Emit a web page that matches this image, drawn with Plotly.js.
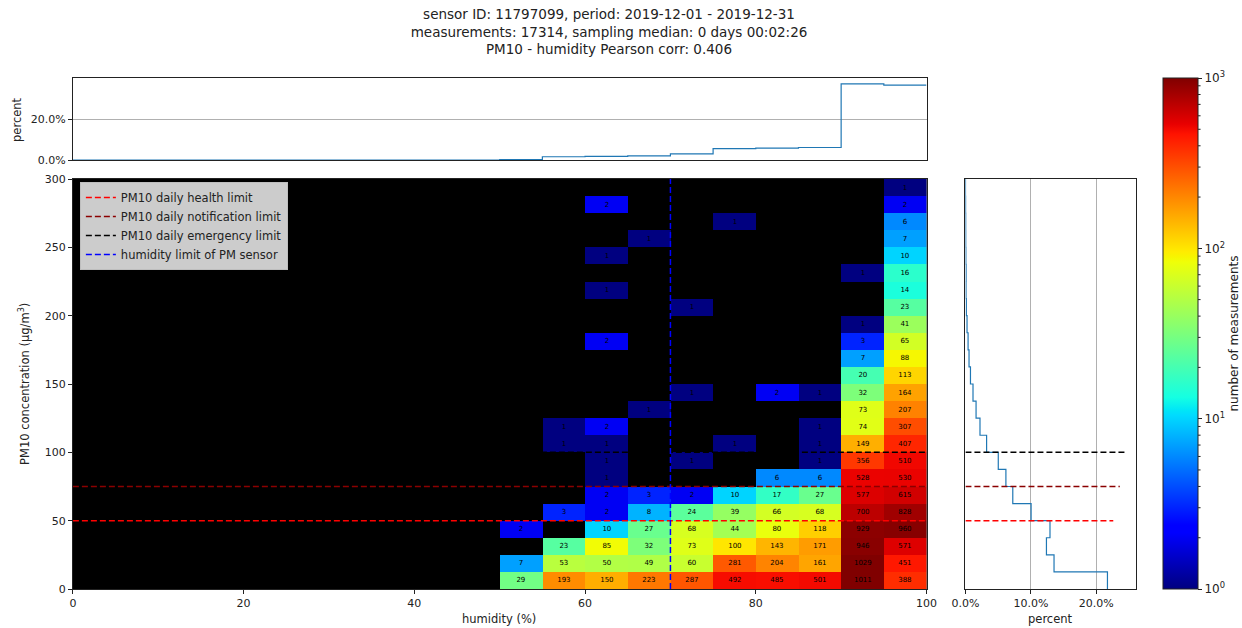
<!DOCTYPE html>
<html><head><meta charset="utf-8">
<script src="https://cdn.plot.ly/plotly-3.0.1.min.js"></script>
<style>body{margin:0;background:#fff;} #chart{width:1242px;height:628px;}</style>
</head><body><div id="chart"></div>
<script>
// ---- data ----
const humidityBinStarts = [0,5,10,15,20,25,30,35,40,45,50,55,60,65,70,75,80,85,90,95];
const pmBinStarts = [0,12.5,25,37.5,50,62.5,75,87.5,100,112.5,125,137.5,150,162.5,175,187.5,200,212.5,225,237.5,250,262.5,275,287.5];
const humidityBinWidth = 5;
const pmBinWidth = 12.5;
const totalMeasurements = 17314;
// counts per PM10 bin (rows, bottom to top), per humidity bin (columns 0..95)
const Z = [0,0,0,0,0,0,0,0,0,0];
const counts = [
  Z.concat([29,193,150,223,287,492,485,501,1011,388]),
  Z.concat([7,53,50,49,60,281,204,161,1029,451]),
  Z.concat([0,23,85,32,73,100,143,171,946,571]),
  Z.concat([2,0,10,27,68,44,80,118,929,960]),
  Z.concat([0,3,2,8,24,39,66,68,700,828]),
  Z.concat([0,0,2,3,2,10,17,27,577,615]),
  Z.concat([0,0,1,0,0,0,6,6,528,530]),
  Z.concat([0,0,1,0,1,0,0,1,356,510]),
  Z.concat([0,1,1,0,0,1,0,1,149,407]),
  Z.concat([0,1,2,0,0,0,0,1,74,307]),
  Z.concat([0,0,0,1,0,0,0,0,73,207]),
  Z.concat([0,0,0,0,1,0,2,1,32,164]),
  Z.concat([0,0,0,0,0,0,0,0,20,113]),
  Z.concat([0,0,0,0,0,0,0,0,7,88]),
  Z.concat([0,0,2,0,0,0,0,0,3,65]),
  Z.concat([0,0,0,0,0,0,0,0,1,41]),
  Z.concat([0,0,0,0,1,0,0,0,0,23]),
  Z.concat([0,0,1,0,0,0,0,0,0,14]),
  Z.concat([0,0,0,0,0,0,0,0,1,16]),
  Z.concat([0,0,1,0,0,0,0,0,0,10]),
  Z.concat([0,0,0,1,0,0,0,0,0,7]),
  Z.concat([0,0,0,0,0,1,0,0,0,6]),
  Z.concat([0,0,2,0,0,0,0,0,0,2]),
  Z.concat([0,0,0,0,0,0,0,0,0,1])
];
const limitNames = ['PM10 daily health limit','PM10 daily notification limit','PM10 daily emergency limit'];
const limitValues = [50, 75, 100];
const limitColors = ['rgb(255,0,0)','rgb(139,0,0)','rgb(0,0,0)'];
const humidityLimit = 70;
const humidityLimitName = 'humidity limit of PM sensor';
const titleLines = ['sensor ID: 11797099, period: 2019-12-01 - 2019-12-31',
  'measurements: 17314, sampling median: 0 days 00:02:26',
  'PM10 - humidity Pearson corr: 0.406'];

// ---- derived ----
const xCenters = humidityBinStarts.map(v => v + humidityBinWidth/2);
const yCenters = pmBinStarts.map(v => v + pmBinWidth/2);
const zLog = counts.map(r => r.map(v => v > 0 ? Math.log10(v) : null));
const zText = counts.map(r => r.map(v => v > 0 ? String(v) : ''));
const colPct = humidityBinStarts.map((_, c) => counts.reduce((s, r) => s + r[c], 0) / totalMeasurements * 100);
const rowPct = counts.map(r => r.reduce((s, v) => s + v, 0) / totalMeasurements * 100);
const xMax = humidityBinStarts[humidityBinStarts.length-1] + humidityBinWidth;
const yMax = pmBinStarts[pmBinStarts.length-1] + pmBinWidth;

// matplotlib jet
const jet = [
 [0,'rgb(0,0,128)'],[0.11,'rgb(0,0,255)'],[0.125,'rgb(0,0,255)'],[0.34,'rgb(0,219,255)'],
 [0.35,'rgb(0,230,247)'],[0.375,'rgb(21,255,226)'],[0.64,'rgb(239,255,8)'],[0.65,'rgb(247,245,0)'],
 [0.66,'rgb(255,236,0)'],[0.89,'rgb(255,19,0)'],[0.91,'rgb(232,0,0)'],[1,'rgb(128,0,0)']
];
const cbMajor = [0,1,2,3];
const cbMajorText = cbMajor.map(k => '10<sup>' + k + '</sup>');

const F = 'DejaVu Sans';
const W = 1242, H = 628;
const px = v => v / W, py = v => 1 - v / H;
const CB = {left: 1165, right: 1200, top: 78, bottom: 589};

const traces = [];
traces.push({
  type: 'heatmap', x: xCenters, y: yCenters, z: zLog, text: zText,
  texttemplate: '%{text}', textfont: {family: F, size: 7, color: 'black'},
  colorscale: jet, zmin: 0, zmax: 3, hoverinfo: 'skip', showlegend: false,
  xaxis: 'x', yaxis: 'y',
  colorbar: {
    x: px(CB.left), xanchor: 'left', y: py(CB.bottom), yanchor: 'bottom', len: (CB.bottom-CB.top)/H, lenmode: 'fraction',
    thickness: CB.right-CB.left, thicknessmode: 'pixels', xpad: 0, ypad: 0,
    outlinewidth: 1, outlinecolor: '#222',
    tickmode: 'array', tickvals: cbMajor, ticktext: cbMajorText, ticks: 'outside', ticklen: 4, tickcolor: '#222',
    tickfont: {family: F, size: 12, color: '#222'},
    title: {text: 'number of measurements', side: 'right', font: {family: F, size: 12, color: '#222'}}
  }
});
limitValues.forEach((v, i) => {
  traces.push({type: 'scatter', mode: 'lines', x: [0, xMax], y: [v, v], name: limitNames[i],
    line: {color: limitColors[i], width: 1.5, dash: '6px,3px'}, xaxis: 'x', yaxis: 'y', hoverinfo: 'skip'});
});
traces.push({type: 'scatter', mode: 'lines', x: [humidityLimit, humidityLimit], y: [0, yMax], name: humidityLimitName,
  line: {color: 'rgb(0,0,255)', width: 1.5, dash: '6px,3px'}, xaxis: 'x', yaxis: 'y', hoverinfo: 'skip'});

// top histogram
traces.push({type: 'scatter', mode: 'lines', x: humidityBinStarts.concat([xMax]), y: colPct.concat([colPct[colPct.length-1]]),
  line: {shape: 'hv', color: '#1f77b4', width: 1.2}, xaxis: 'x2', yaxis: 'y2', showlegend: false, hoverinfo: 'skip'});
// right histogram
traces.push({type: 'scatter', mode: 'lines', x: rowPct.concat([rowPct[rowPct.length-1]]), y: pmBinStarts.concat([yMax]),
  line: {shape: 'vh', color: '#1f77b4', width: 1.2}, xaxis: 'x3', yaxis: 'y3', showlegend: false, hoverinfo: 'skip'});
const rightLimitEnds = [22.6, 23.6, 24.7];
limitValues.forEach((v, i) => {
  traces.push({type: 'scatter', mode: 'lines', x: [0, rightLimitEnds[i]], y: [v, v], showlegend: false,
    line: {color: limitColors[i], width: 1.5, dash: '6px,3px'}, xaxis: 'x3', yaxis: 'y3', hoverinfo: 'skip'});
});

// shapes: black background of main panel, minor log ticks of colorbar
const shapes = [{type: 'rect', xref: 'x domain', yref: 'y domain', x0: 0, x1: 1, y0: 0, y1: 1,
  fillcolor: 'black', line: {width: 0}, layer: 'below'}];
for (let k = 0; k < 3; k++) {
  for (let m = 2; m <= 9; m++) {
    const f = (k + Math.log10(m)) / 3;
    const yPix = CB.bottom - f * (CB.bottom - CB.top);
    shapes.push({type: 'line', xref: 'paper', yref: 'paper', x0: px(CB.right), x1: px(CB.right + 2.5),
      y0: py(yPix), y1: py(yPix), line: {color: '#222', width: 1}});
  }
}

const axBase = {showline: true, mirror: true, linecolor: '#222', linewidth: 1, ticks: 'outside', ticklen: 4,
  tickcolor: '#222', tickfont: {family: F, size: 11, color: '#222'}, zeroline: false, showgrid: false, automargin: false};

const layout = {
  width: W, height: H, margin: {l: 0, r: 0, t: 0, b: 0}, paper_bgcolor: 'white', plot_bgcolor: 'white',
  font: {family: F, color: '#222'},
  title: {text: titleLines.join('<br>'), x: px(609), xanchor: 'center', y: py(19), yanchor: 'middle',
    font: {family: F, size: 13.5, color: '#222'}},
  xaxis: Object.assign({}, axBase, {domain: [px(73), px(928)], range: [0, xMax], tickvals: [0,20,40,60,80,100], anchor: 'y'}),
  yaxis: Object.assign({}, axBase, {domain: [py(589), py(179)], range: [0, yMax], tickvals: [0,50,100,150,200,250,300], anchor: 'x'}),
  xaxis2: Object.assign({}, axBase, {domain: [px(73), px(928)], range: [0, xMax], showticklabels: false, ticks: '', anchor: 'y2'}),
  yaxis2: Object.assign({}, axBase, {domain: [py(160), py(78)], range: [0, 40], tickvals: [0, 20], ticktext: ['0.0%','20.0%'],
    showgrid: true, gridcolor: '#b0b0b0', gridwidth: 1, anchor: 'x2'}),
  xaxis3: Object.assign({}, axBase, {domain: [px(967), px(1138)], range: [0, 26.1], tickvals: [0, 10, 20], ticktext: ['0.0%','10.0%','20.0%'],
    showgrid: true, gridcolor: '#b0b0b0', gridwidth: 1, anchor: 'y3'}),
  yaxis3: Object.assign({}, axBase, {domain: [py(589), py(179)], range: [0, yMax], showticklabels: false, ticks: '', anchor: 'x3'}),
  legend: {x: px(80), xanchor: 'left', y: py(182), yanchor: 'top', bgcolor: 'rgb(204,204,204)', bordercolor: 'rgb(190,190,190)',
    borderwidth: 1, font: {family: F, size: 11.5, color: '#222'}, tracegroupgap: 0, itemwidth: 30},
  shapes: shapes,
  annotations: [
    {text: 'humidity (%)', xref: 'paper', yref: 'paper', x: px(500), y: py(619), xanchor: 'center', yanchor: 'middle', showarrow: false, font: {family: F, size: 11.5, color: '#222'}},
    {text: 'percent', xref: 'paper', yref: 'paper', x: px(1052), y: py(619), xanchor: 'center', yanchor: 'middle', showarrow: false, font: {family: F, size: 11.5, color: '#222'}},
    {text: 'PM10 concentration (µg/m<sup>3</sup>)', xref: 'paper', yref: 'paper', x: px(24), y: py(384), xanchor: 'center', yanchor: 'middle', textangle: -90, showarrow: false, font: {family: F, size: 11.5, color: '#222'}},
    {text: 'percent', xref: 'paper', yref: 'paper', x: px(17), y: py(119), xanchor: 'center', yanchor: 'middle', textangle: -90, showarrow: false, font: {family: F, size: 11.5, color: '#222'}}
  ]
};
Plotly.newPlot('chart', traces, layout, {displayModeBar: false, staticPlot: true});
</script></body></html>
